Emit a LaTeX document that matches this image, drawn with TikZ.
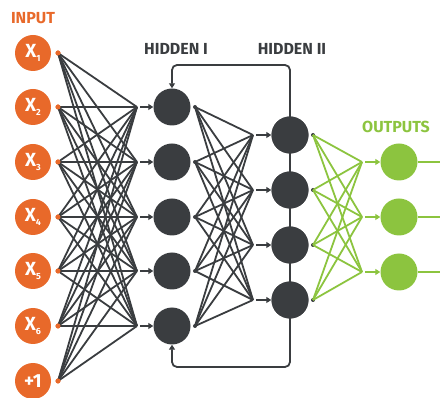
\documentclass[tikz,border=0pt]{standalone}
\usepackage{fontspec}
\setmainfont{Fira Sans}
\usetikzlibrary{arrows.meta}
\definecolor{orng}{HTML}{E8692A}
\definecolor{dark}{HTML}{3A3D40}
\definecolor{grn}{HTML}{8CC43F}
\newcommand{\subnum}[1]{\raisebox{-0.45ex}{\fontsize{9}{9}\selectfont #1}}
\tikzset{
  inputnode/.style={circle,fill=orng,minimum size=36pt,inner sep=0pt,text=white,font=\bfseries\fontsize{19}{19}\selectfont},
  hidnode/.style={circle,fill=dark,minimum size=37pt,inner sep=0pt},
  outnode/.style={circle,fill=grn,minimum size=37pt,inner sep=0pt},
  darkline/.style={draw=dark,line width=1.8pt},
  greenline/.style={draw=grn,line width=1.8pt},
  shortarrow/.style={-{Triangle[length=5pt,width=6pt]},line width=1.8pt},
  dotmark/.style={circle,inner sep=0pt,minimum size=5pt},
  title/.style={font=\bfseries\fontsize{16}{16}\selectfont}
}
\begin{document}
\begin{tikzpicture}[x=1pt,y=-1pt]
\useasboundingbox (0,0) rectangle (440,398);
% input nodes
\foreach \y/\i/\t in {53/1/{X\subnum{1}},107/2/{X\subnum{2}},162/3/{X\subnum{3}},217/4/{X\subnum{4}},271/5/{X\subnum{5}},326/6/{X\subnum{6}},381/7/{+1}}{
  \node[inputnode] (in\i) at (33,\y) {\t};
  \node[dotmark,fill=orng] (ind\i) at (58,\y) {};
}
% hidden I
\foreach \y/\i in {107/1,162/2,217/3,271/4,326/5}{
  \node[hidnode] (ha\i) at (172,\y) {};
  \coordinate (hac\i) at (137,\y);
  \coordinate (haa\i) at (140,\y);
  \node[dotmark,fill=dark,minimum size=4pt] (had\i) at (195,\y) {};
}
% hidden II
\foreach \y/\i in {135/1,190/2,245/3,300/4}{
  \node[hidnode] (hb\i) at (290,\y) {};
  \coordinate (hbc\i) at (253,\y);
  \coordinate (hba\i) at (256,\y);
  \node[dotmark,fill=dark,minimum size=4pt] (hbd\i) at (313,\y) {};
}
% outputs
\foreach \y/\i in {162/1,217/2,272/3}{
  \node[outnode] (o\i) at (399,\y) {};
  \coordinate (oc\i) at (362,\y);
  \coordinate (oa\i) at (365,\y);
  \coordinate (oe\i) at (440,\y);
}
% feedback loops
\coordinate (topl) at (290,65);
\coordinate (topr) at (172,65);
\coordinate (botl) at (290,367);
\coordinate (botr) at (172,367);
\draw[darkline,rounded corners=5pt,-{Triangle[length=5pt,width=6pt]}] (hb1.center) -- (topl) -- (topr) -- (ha1.north);
\draw[darkline,rounded corners=5pt,-{Triangle[length=5pt,width=6pt]}] (hb4.center) -- (botl) -- (botr) -- (ha5.south);
\draw[darkline] (hb1.center) -- (hb4.center);
% redraw hidden II over the line
\foreach \i in {1,...,4}{
  \node[hidnode] at (hb\i) {};
}
% input -> hidden I
\foreach \i in {1,...,7}{
  \foreach \j in {1,...,5}{
    \draw[darkline] (ind\i.center) -- (hac\j);
  }
}
\foreach \j in {1,...,5}{
  \draw[darkline,shortarrow,dark] (haa\j) -- (ha\j.west);
}
% hidden I -> hidden II
\foreach \i in {1,...,5}{
  \foreach \j in {1,...,4}{
    \draw[darkline] (had\i.center) -- (hbc\j);
  }
}
\foreach \j in {1,...,4}{
  \draw[darkline,shortarrow,dark] (hba\j) -- (hb\j.west);
}
% hidden II -> outputs
\foreach \i in {1,...,4}{
  \foreach \j in {1,...,3}{
    \draw[greenline] (hbd\i.center) -- (oc\j);
  }
}
\foreach \j in {1,...,3}{
  \draw[greenline,shortarrow,grn] (oa\j) -- (o\j.west);
  \draw[greenline] (o\j.east) -- (oe\j);
}
% dots on top
\foreach \i in {1,...,7}{ \node[dotmark,fill=orng] at (ind\i) {}; }
% titles
\node[title,text=orng] (tin) at (33,18) {INPUT};
\node[title,text=dark] (th1) at (176,49) {HIDDEN I};
\node[title,text=dark] (th2) at (292,49) {HIDDEN II};
\node[title,text=grn] (tout) at (396,127) {OUTPUTS};
\end{tikzpicture}
\end{document}
